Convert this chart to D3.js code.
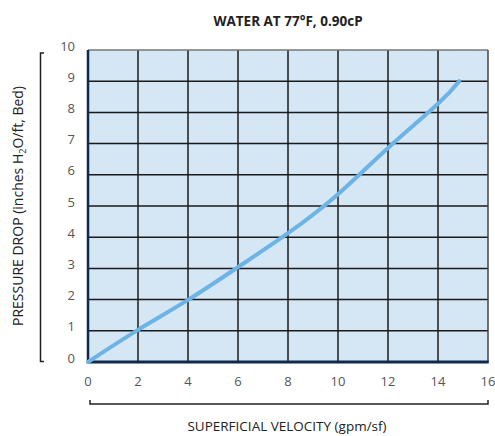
<!DOCTYPE html>
<html>
<head>
<meta charset="utf-8">
<script src="https://cdnjs.cloudflare.com/ajax/libs/d3/7.8.5/d3.min.js"></script>
<style>
  body { margin: 0; background: #fff; }
  text { font-family: "Open Sans", "Lato", sans-serif; }
</style>
</head>
<body>
<div id="svgDiv"></div>
<script>
// data
var velocity = [0, 2, 4, 6, 8, 10, 12, 14, 14.85];
var pressureDrop = [0, 1.03, 1.99, 3.04, 4.13, 5.38, 6.86, 8.28, 9.0];
var xTicks = [0, 2, 4, 6, 8, 10, 12, 14, 16];
var yTicks = [0, 1, 2, 3, 4, 5, 6, 7, 8, 9, 10];

var svgWidth = 495, svgHeight = 436;
var plotLeft = 88, plotRight = 488, plotTop = 50, plotBottom = 362;

var svg = d3.select("#svgDiv").append("svg")
    .attr("width", svgWidth)
    .attr("height", svgHeight);

var xScale = d3.scaleLinear().domain([0, 16]).range([plotLeft, plotRight]);
var yScale = d3.scaleLinear().domain([0, 10]).range([plotBottom, plotTop]);

// plot background
svg.append("rect")
    .attr("x", plotLeft).attr("y", plotTop)
    .attr("width", plotRight - plotLeft).attr("height", plotBottom - plotTop)
    .attr("fill", "#d5e6f4");

// grid
svg.append("g").selectAll("line")
    .data(xTicks.slice(1, -1))
    .enter().append("line")
    .attr("x1", d => xScale(d)).attr("x2", d => xScale(d))
    .attr("y1", plotTop).attr("y2", plotBottom)
    .attr("stroke", "#1a1a1a").attr("stroke-width", 1.5);

svg.append("g").selectAll("line")
    .data(yTicks.slice(1, -1))
    .enter().append("line")
    .attr("x1", plotLeft).attr("x2", plotRight)
    .attr("y1", d => yScale(d)).attr("y2", d => yScale(d))
    .attr("stroke", "#1a1a1a").attr("stroke-width", 1.5);

// frame: grey top/right, navy left/bottom
svg.append("line").attr("x1", plotLeft).attr("x2", plotRight).attr("y1", plotTop).attr("y2", plotTop)
    .attr("stroke", "#777").attr("stroke-width", 1.5);
svg.append("line").attr("x1", plotRight).attr("x2", plotRight).attr("y1", plotTop).attr("y2", plotBottom)
    .attr("stroke", "#444").attr("stroke-width", 1.5);
svg.append("line").attr("x1", plotLeft).attr("x2", plotLeft).attr("y1", plotTop).attr("y2", plotBottom + 1.5)
    .attr("stroke", "#0d2a4f").attr("stroke-width", 2.5);
svg.append("line").attr("x1", plotLeft).attr("x2", plotRight + 0.75).attr("y1", plotBottom).attr("y2", plotBottom)
    .attr("stroke", "#0d2a4f").attr("stroke-width", 3);

// curve
var line = d3.line()
    .x((d, i) => xScale(velocity[i]))
    .y(d => yScale(d))
    .curve(d3.curveNatural);

svg.append("path")
    .datum(pressureDrop)
    .attr("d", line)
    .attr("fill", "none")
    .attr("stroke", "#6cb3e6")
    .attr("stroke-width", 4)
    .attr("stroke-linecap", "round");

// tick labels
svg.append("g").selectAll("text")
    .data(xTicks)
    .enter().append("text")
    .attr("x", d => xScale(d))
    .attr("y", 386)
    .attr("text-anchor", "middle")
    .attr("font-size", 13)
    .attr("fill", "#555")
    .text(d => d);

svg.append("g").selectAll("text")
    .data(yTicks)
    .enter().append("text")
    .attr("x", 75)
    .attr("y", d => yScale(d) + 0.5)
    .attr("text-anchor", "end")
    .attr("font-size", 13)
    .attr("fill", "#555")
    .text(d => d);

// brackets
svg.append("path")
    .attr("d", "M44,53 H40.5 V361.5 H44")
    .attr("fill", "none").attr("stroke", "#222").attr("stroke-width", 1.5);
svg.append("path")
    .attr("d", "M90,400 V404 H488 V400")
    .attr("fill", "none").attr("stroke", "#222").attr("stroke-width", 1.5);

// titles
svg.append("text")
    .attr("x", 288).attr("y", 26)
    .attr("text-anchor", "middle")
    .attr("font-size", 13.5).attr("font-weight", "bold")
    .attr("fill", "#222")
    .text("WATER AT 77°F, 0.90cP");

svg.append("text")
    .attr("x", 287).attr("y", 431)
    .attr("text-anchor", "middle")
    .attr("font-size", 13.5)
    .attr("fill", "#222")
    .text("SUPERFICIAL VELOCITY (gpm/sf)");

var yl = svg.append("text")
    .attr("transform", "translate(23,206) rotate(-90)")
    .attr("text-anchor", "middle")
    .attr("font-size", 14)
    .attr("fill", "#222");
yl.append("tspan").text("PRESSURE DROP (inches H");
yl.append("tspan").attr("font-size", 9).attr("dy", 3).text("2");
yl.append("tspan").attr("dy", -3).text("O/ft, Bed)");
</script>
</body>
</html>
